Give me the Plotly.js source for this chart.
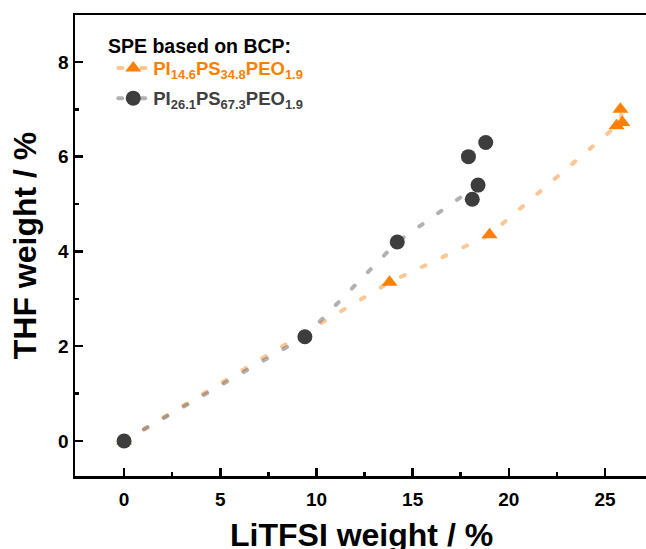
<!DOCTYPE html>
<html>
<head>
<meta charset="utf-8">
<script src="https://cdn.plot.ly/plotly-3.0.1.min.js"></script>
<style>
  html, body { margin: 0; padding: 0; background: #fff; overflow: hidden; }
  #chart { width: 646px; height: 549px; }
  /* rounded ends on the dotted guide lines */
  #chart .js-line { stroke-linecap: round; }
</style>
</head>
<body>
<div id="chart"></div>
<script>
// LiTFSI vs. THF weight fractions for two block-copolymer based SPEs.
// Points are listed in the order the dashed guide runs through them.
const litfsiA = [0, 13.8, 19.0, 25.6, 25.9, 25.8];
const thfA    = [0, 3.35, 4.35, 6.65, 6.72, 7.0];

// null splits the guide between the lower and upper clusters near 18 %
const litfsiB = [0, 9.4, 14.2, 18.4, 18.1, null, 17.9, 18.8];
const thfB    = [0, 2.2, 4.2, 5.4, 5.1, null, 6.0, 6.3];

const nameA = '<span style="color:#ff8000">PI<sub>14.6</sub>PS<sub>34.8</sub>PEO<sub>1.9</sub></span>';
const nameB = '<span style="color:#404040">PI<sub>26.1</sub>PS<sub>67.3</sub>PEO<sub>1.9</sub></span>';
const legendTitle = 'SPE based on BCP:';
const xTitle = 'LiTFSI weight / %';
const yTitle = 'THF weight / %';
const xTicks = [0, 5, 10, 15, 20, 25];
const yTicks = [0, 2, 4, 6, 8];

const FONT = 'Liberation Sans, Arial, Helvetica, sans-serif';
const DASH = '4px,19px';

const traces = [
  {
    x: litfsiA, y: thfA, name: nameA, legendgroup: 'a',
    type: 'scatter', mode: 'lines+markers', connectgaps: false,
    line: { color: 'rgba(255,140,40,0.5)', width: 4, dash: DASH },
    marker: { symbol: 'triangle-up', size: 14, color: '#ff8000' }
  },
  {
    x: litfsiB, y: thfB, name: nameB, legendgroup: 'b',
    type: 'scatter', mode: 'lines+markers', connectgaps: false,
    line: { color: 'rgba(100,100,100,0.5)', width: 4, dash: DASH },
    marker: { symbol: 'circle', size: 15, color: '#3d3d3d' }
  }
];

const axisCommon = {
  showline: true, linecolor: '#000', linewidth: 2.5,
  ticks: 'inside', ticklen: 8, tickwidth: 2.5, tickcolor: '#000',
  showgrid: false, zeroline: false,
  tickfont: { family: FONT, size: 19, color: '#000', weight: 'bold' }
};

const titleFont = { family: FONT, size: 32, weight: 'bold', color: '#000' };

const layout = {
  width: 646, height: 549,
  margin: { l: 75, r: 0, t: 15, b: 73, pad: 0 },
  paper_bgcolor: '#fff', plot_bgcolor: '#fff',
  font: { family: FONT, color: '#000' },
  showlegend: true,
  legend: {
    x: 0.067, y: 0.925, xanchor: 'left', yanchor: 'top',
    bgcolor: 'rgba(0,0,0,0)', borderwidth: 0,
    traceorder: 'grouped', tracegroupgap: 3,
    font: { family: FONT, size: 18.5, weight: 'bold' }
  },
  annotations: [
    {
      text: legendTitle, xref: 'paper', yref: 'paper',
      x: 0.055, y: 0.932, xanchor: 'left', yanchor: 'middle', showarrow: false,
      font: { family: FONT, size: 19.5, weight: 'bold', color: '#000' }
    },
    {
      // x-axis title sits low, partly past the bottom edge
      text: xTitle, xref: 'paper', yref: 'paper',
      x: 0.501, y: -0.128, xanchor: 'center', yanchor: 'middle', showarrow: false,
      font: titleFont
    }
  ],
  xaxis: Object.assign({}, axisCommon, {
    range: [-2.55, 27.13], tickvals: xTicks, ticktext: xTicks.map(String),
    mirror: true, ticklabelstandoff: 5,
    minor: { ticks: 'inside', ticklen: 4, tickwidth: 2.5, tickcolor: '#000', dtick: 2.5, tick0: 0 }
  }),
  yaxis: Object.assign({}, axisCommon, {
    range: [-0.74, 8.99], tickvals: yTicks, ticktext: yTicks.map(String),
    mirror: false, ticklabelstandoff: 0,
    minor: { ticks: 'inside', ticklen: 4, tickwidth: 2.5, tickcolor: '#000', dtick: 1, tick0: 0 },
    title: { text: yTitle, standoff: 12, font: titleFont }
  })
};

Plotly.newPlot('chart', traces, layout, { staticPlot: true, displayModeBar: false });
</script>
</body>
</html>
